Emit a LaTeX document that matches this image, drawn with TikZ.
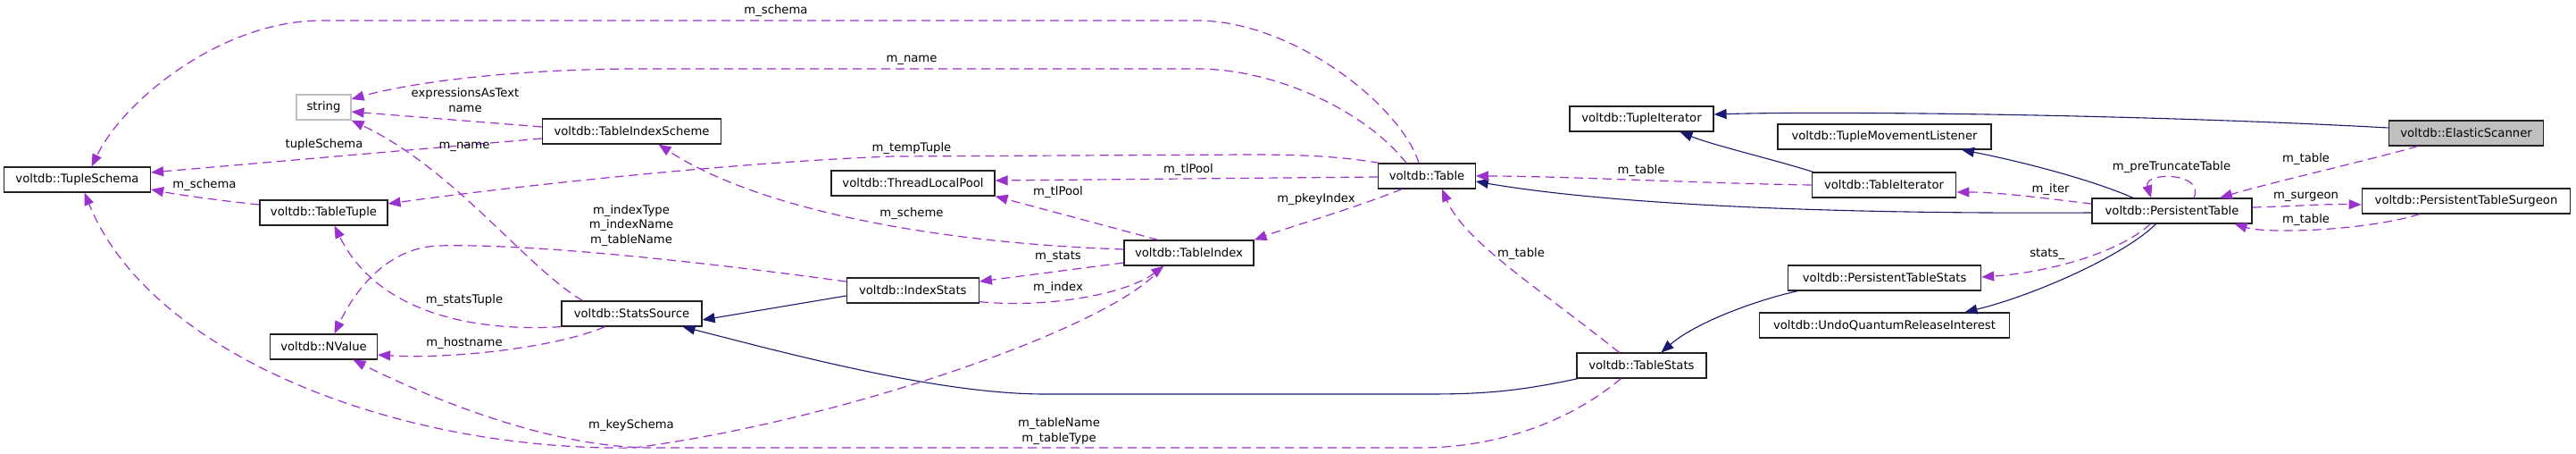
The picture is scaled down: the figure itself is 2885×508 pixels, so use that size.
\documentclass[tikz,border=0pt]{standalone}
\usepackage{fontspec}
\setmainfont{DejaVu Sans}
\usetikzlibrary{arrows.meta}
\definecolor{usecol}{HTML}{9A32CD}
\definecolor{inhcol}{HTML}{191970}
\definecolor{focusfill}{HTML}{BFBFBF}
\definecolor{extborder}{HTML}{BFBFBF}
\definecolor{boxborder}{HTML}{202020}
\begin{document}
\begin{tikzpicture}[x=1pt,y=-1pt,
  cls/.style={draw=boxborder, line width=1.2pt, minimum height=28pt, inner sep=0pt, font=\fontsize{13.2}{15}\selectfont},
  lbl/.style={font=\fontsize{13.2}{16.5}\selectfont, inner sep=0pt, align=center},
  inh/.style={draw=inhcol, line width=1.1pt, -{Triangle[length=14pt,width=11pt]}},
  use/.style={draw=usecol, line width=1.2pt, dash pattern=on 10pt off 6pt, -{Triangle[length=14pt,width=11pt]}},
]
\useasboundingbox (0,0) rectangle (2885,508);
% classes
\node[cls, minimum width=164pt] (TS) at (86.5,201) {voltdb::TupleSchema};
\node[cls, draw=extborder, minimum width=61pt] (STR) at (362.5,120) {string};
\node[cls, minimum width=200pt] (TIS) at (707.5,147) {voltdb::TableIndexScheme};
\node[cls, minimum width=143pt] (TT) at (362.5,238) {voltdb::TableTuple};
\node[cls, minimum width=183pt] (TLP) at (1022.5,205) {voltdb::ThreadLocalPool};
\node[cls, minimum width=108.5pt] (TAB) at (1598,197) {voltdb::Table};
\node[cls, minimum width=161pt] (TupIt) at (1838.5,133) {voltdb::TupleIterator};
\node[cls, minimum width=239pt] (TML) at (2110.5,153) {voltdb::TupleMovementListener};
\node[cls, minimum width=161.5pt] (TabIt) at (2110,207) {voltdb::TableIterator};
\node[cls, fill=focusfill, minimum width=173.5pt] (ES) at (2762,149) {voltdb::ElasticScanner};
\node[cls, minimum width=179pt] (PT) at (2432.5,236) {voltdb::PersistentTable};
\node[cls, minimum width=233.5pt] (PTSg) at (2762,225) {voltdb::PersistentTableSurgeon};
\node[cls, minimum width=120pt] (NV) at (362.5,388) {voltdb::NValue};
\node[cls, minimum width=157pt] (SS) at (707.5,351) {voltdb::StatsSource};
\node[cls, minimum width=145pt] (TIx) at (1331.5,283) {voltdb::TableIndex};
\node[cls, minimum width=148pt] (IS) at (1022.3,325) {voltdb::IndexStats};
\node[cls, minimum width=145pt] (TSt) at (1838.4,409) {voltdb::TableStats};
\node[cls, minimum width=216pt] (PTSt) at (2110.6,311) {voltdb::PersistentTableStats};
\node[cls, minimum width=280pt] (UQ) at (2110.5,364) {voltdb::UndoQuantumReleaseInterest};
% inheritance
\draw[inh] ([yshift=6pt]ES.west) .. controls (2400,128) and (2050,124) .. ([yshift=5pt]TupIt.east);
\draw[inh] ([xshift=2pt]TabIt.north west) .. controls (1985,178) and (1920,163) .. ([xshift=43pt]TupIt.south);
\draw[inh] ([yshift=-2pt]PT.west) .. controls (2000,240) and (1780,225) .. ([yshift=-6pt]TAB.east);
\draw[inh] ([xshift=-43.5pt]PT.north) .. controls (2340,200) and (2260,180) .. ([xshift=86.5pt]TML.south);
\draw[inh] ([xshift=-18pt]PT.south) .. controls (2380,285) and (2280,330) .. ([xshift=90pt]UQ.north);
\draw[inh] ([xshift=-97pt]PTSt.south) .. controls (1970,335) and (1900,360) .. ([xshift=22pt]TSt.north);
\draw[inh] ([xshift=2pt]TSt.south west) .. controls (1700,438) and (1660,441) .. (1600,441) -- (1170,441) .. controls (1050,441) and (880,395) .. ([xshift=57pt]SS.south);
\draw[inh] ([yshift=-6pt]IS.west) -- ([yshift=-7pt]SS.east);
% usage
\draw[use] ([xshift=-54pt]ES.south) .. controls (2650,180) and (2540,205) .. ([xshift=53.5pt]PT.north);
\draw[use] ([xshift=24.5pt]PT.north) .. controls (2470,192) and (2400,192) .. ([xshift=-23.5pt]PT.north);
\draw[use] ([yshift=4pt]PT.east) .. controls (2570,231) and (2600,228) .. ([yshift=-4pt]PTSg.west);
\draw[use] ([xshift=-52pt]PTSg.south) .. controls (2650,258) and (2540,262) .. ([xshift=70pt]PT.south);
\draw[use] ([yshift=8pt]PT.west) .. controls (2290,222) and (2240,215) .. ([yshift=-8pt]TabIt.east);
\draw[use] ([xshift=-24pt]PT.south) .. controls (2370,285) and (2290,305) .. ([yshift=1pt]PTSt.east);
\draw[use] (TabIt.west) .. controls (1900,205) and (1750,197) .. (TAB.east);
\draw[use] ([xshift=-25pt]TSt.north) .. controls (1720,320) and (1640,270) .. ([xshift=17pt]TAB.south);
\draw[use] ([xshift=-9pt]TAB.north) .. controls (1570,120) and (1450,23) .. (1340,23) -- (360,23) .. controls (250,23) and (140,110) .. ([xshift=16pt]TS.north);
\draw[use] ([xshift=-23pt]TAB.north) .. controls (1530,125) and (1430,77) .. (1340,77) -- (720,77) .. controls (560,77) and (450,95) .. ([yshift=9pt]STR.east);
\draw[use] ([xshift=2pt]TAB.north west) .. controls (1500,175) and (1460,173) .. (1400,173) -- (1000,175) .. controls (850,180) and (600,205) .. ([yshift=10pt]TT.east);
\draw[use] ([yshift=-1pt]TAB.west) -- ([yshift=3pt]TLP.east);
\draw[use] ([xshift=-28pt]TAB.south) .. controls (1520,232) and (1450,252) .. (TIx.north east);
\draw[use] ([xshift=-34.5pt]TIx.north) -- (TLP.south east);
\draw[use] ([yshift=4pt]TIx.west) .. controls (1050,272) and (850,235) .. ([xshift=30pt]TIS.south);
\draw[use] ([yshift=-11pt]TIx.west) -- ([yshift=10pt]IS.east);
\draw[use] ([yshift=2pt]IS.south east) .. controls (1170,345) and (1260,330) .. ([xshift=-28pt]TIx.south);
\draw[use] ([yshift=10pt]IS.west) .. controls (800,295) and (600,272) .. (490,275) .. controls (430,278) and (395,330) .. ([xshift=12pt]NV.north);
\draw[use] ([yshift=5pt]TIS.west) -- ([yshift=-5pt]STR.east);
\draw[use] ([yshift=-8pt]TIS.west) -- ([yshift=8pt]TS.east);
\draw[use] ([yshift=9pt]TT.west) .. controls (250,225) and (200,218) .. ([yshift=-11pt]TS.east);
\draw[use] ([xshift=-55pt]SS.north) .. controls (590,300) and (510,190) .. (STR.south east);
\draw[use] (SS.south west) .. controls (520,372) and (420,345) .. ([xshift=12pt]TT.south);
\draw[use] ([xshift=-30pt]SS.south) .. controls (620,390) and (500,402) .. ([yshift=-9pt]NV.east);
\draw[use] ([xshift=-30pt]TIx.south) .. controls (1260,360) and (950,470) .. (710,501) .. controls (450,505) and (170,400) .. ([xshift=8pt]TS.south);
\draw[use] ([xshift=-23pt]TSt.south) .. controls (1760,470) and (1680,501) .. (1590,501) -- (730,501) .. controls (610,501) and (470,440) .. ([xshift=33pt]NV.south);
% labels
\node[lbl] (l1) at (2582.6,178) {m\_table};
\node[lbl] (l2) at (2432,187) {m\_preTruncateTable};
\node[lbl] (l3) at (2296.6,212) {m\_iter};
\node[lbl] (l4) at (2582.6,220) {m\_surgeon};
\node[lbl] (l5) at (2582.6,246) {m\_table};
\node[lbl] (l6) at (2292.7,284) {stats\_};
\node[lbl] (l7) at (1838,191) {m\_table};
\node[lbl] (l8) at (1703.5,284) {m\_table};
\node[lbl] (l9) at (1474,223) {m\_pkeyIndex};
\node[lbl] (l10) at (869,12) {m\_schema};
\node[lbl] (l11) at (1021,67) {m\_name};
\node[lbl] (l12) at (1021,166) {m\_tempTuple};
\node[lbl] (l13) at (1331,190) {m\_tlPool};
\node[lbl] (l14) at (1185,215) {m\_tlPool};
\node[lbl] (l15) at (1021,239) {m\_scheme};
\node[lbl] (l16) at (1185,287) {m\_stats};
\node[lbl] (l17) at (1185,322) {m\_index};
\node[lbl] (l18) at (707,252.5) {m\_indexType\\m\_indexName\\m\_tableName};
\node[lbl] (l19) at (521,112) {expressionsAsText\\name};
\node[lbl] (l20) at (363,162) {tupleSchema};
\node[lbl] (l21) at (520,164) {m\_name};
\node[lbl] (l22) at (229,207) {m\_schema};
\node[lbl] (l23) at (520,336) {m\_statsTuple};
\node[lbl] (l24) at (520,384) {m\_hostname};
\node[lbl] (l25) at (707,476) {m\_keySchema};
\node[lbl] (l26) at (1186,482.5) {m\_tableName\\m\_tableType};
\end{tikzpicture}
\end{document}
